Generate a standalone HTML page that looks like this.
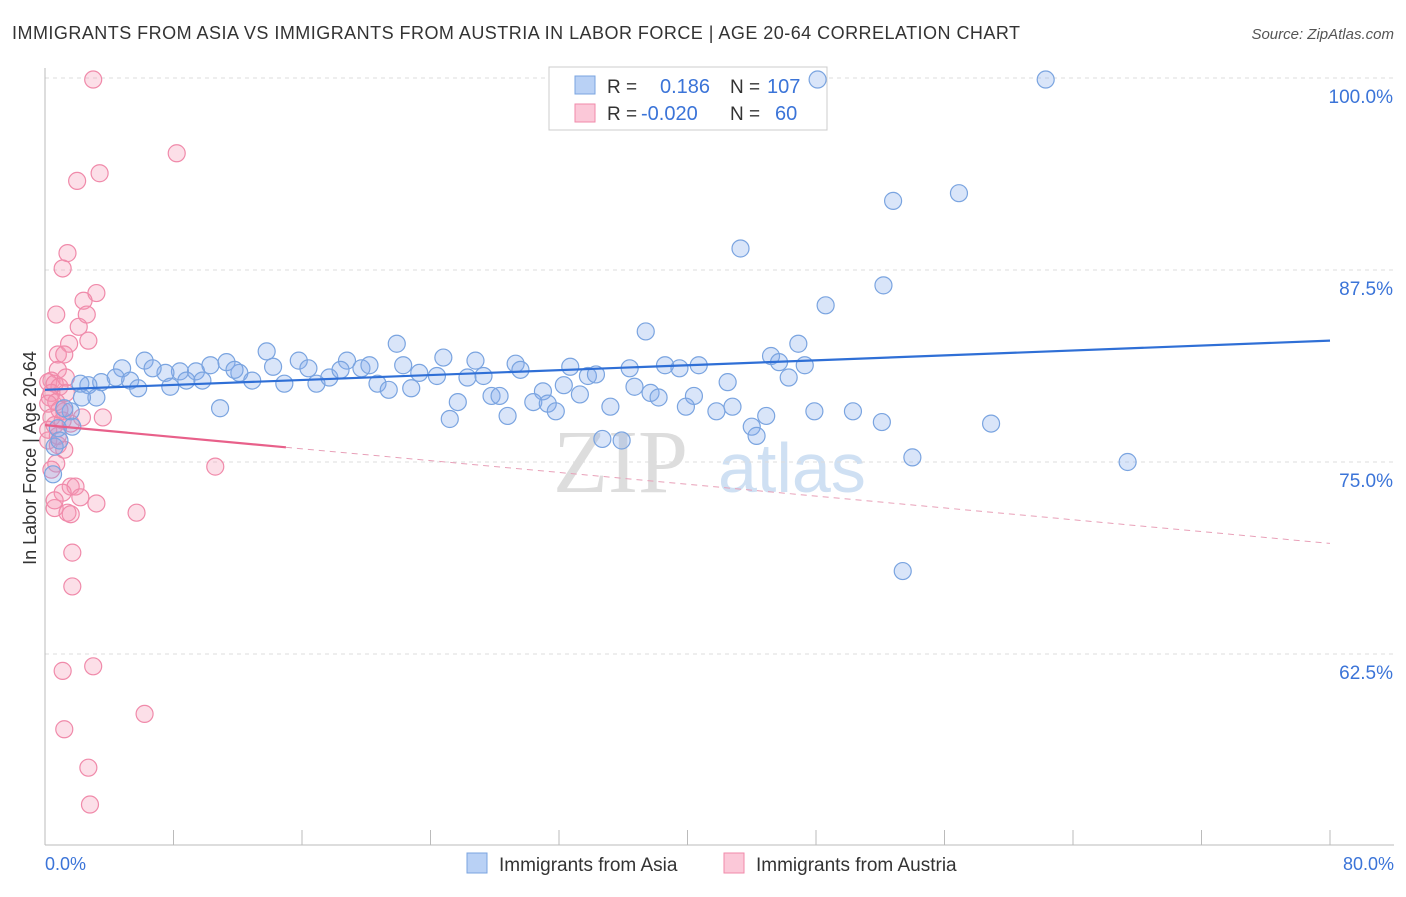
<!DOCTYPE html>
<html><head><meta charset="utf-8"><style>
body{margin:0;background:#fff;font-family:"Liberation Sans",sans-serif;}
</style></head><body>
<svg width="1406" height="892" xmlns="http://www.w3.org/2000/svg" id="chart">
<text x="12" y="39" font-size="18" fill="#333" textLength="1008" lengthAdjust="spacing">IMMIGRANTS FROM ASIA VS IMMIGRANTS FROM AUSTRIA IN LABOR FORCE | AGE 20-64 CORRELATION CHART</text>
<text x="1394" y="39" font-size="15" fill="#555" text-anchor="end" font-style="italic">Source: ZipAtlas.com</text>
<text x="36" y="458" font-size="18" fill="#333" text-anchor="middle" transform="rotate(-90 36 458)">In Labor Force | Age 20-64</text>
<g><text x="553" y="492" font-size="90" fill="#ddd" font-family="Liberation Serif,serif">ZIP</text><text x="718" y="492" font-size="70" fill="#cfe0f3">atlas</text></g>
<g id="grid"></g><g id="axes"></g>
<g>
<rect x="549" y="67" width="278" height="63" fill="#fff" stroke="#ccc"/>
<rect x="575" y="76" width="20" height="18" fill="#b9d1f5" stroke="#7aa4e0"/>
<rect x="575" y="104" width="20" height="18" fill="#fbc8d8" stroke="#f08aaa"/>
<text x="607" y="93" font-size="19" fill="#333">R =</text><text x="660" y="93" font-size="20" fill="#3b74d8">0.186</text>
<text x="730" y="93" font-size="19" fill="#333">N =</text><text x="767" y="93" font-size="20" fill="#3b74d8">107</text>
<text x="607" y="120" font-size="19" fill="#333">R =</text><text x="641" y="120" font-size="20" fill="#3b74d8">-0.020</text>
<text x="730" y="120" font-size="19" fill="#333">N =</text><text x="775" y="120" font-size="20" fill="#3b74d8">60</text>
</g>
<g id="marks"></g>
<g>
<rect x="467" y="853" width="20" height="20" fill="#b9d1f5" stroke="#7aa4e0"/><text x="499" y="871" font-size="19" fill="#333">Immigrants from Asia</text>
<rect x="724" y="853" width="20" height="20" fill="#fbc8d8" stroke="#f08aaa"/><text x="756" y="871" font-size="19" fill="#333">Immigrants from Austria</text>
</g>
</svg>
<script>
const yTicks=[100,87.5,75,62.5];
const yTickLabels=["100.0%","87.5%","75.0%","62.5%"];
const xEnds=["0.0%","80.0%"];
const asiaX=[48.1,62.3,56.9,52.8,43.3,52.2,48.6,37.4,21.9,13.8,6.2,11.3,15.8,18.8,26.8,29.3,32.7,38.6,40.7,45.2,46.9,45.7,47.3,24.8,22.3,19.7,16.4,14.2,12.1,10.3,8.4,7.5,4.8,3.5,2.7,4.4,5.3,5.8,6.7,7.8,8.8,9.4,9.8,11.8,12.9,14.9,16.9,17.7,18.4,20.2,20.7,21.4,22.8,23.3,24.4,26.3,27.3,27.8,28.3,29.6,31.0,30.4,31.3,31.8,32.3,33.3,33.8,34.3,35.2,36.4,36.7,37.7,38.2,39.5,40.4,39.9,41.8,42.5,42.8,44.0,44.3,44.9,46.3,47.9,50.3,52.1,54.0,53.4,58.9,67.4,10.9,25.7,25.2,28.8,34.7,35.9,3.2,2.3,1.6,1.2,0.8,0.6,0.5,0.9,1.7,2.2];
const asiaY=[99.9,99.9,92.5,92.0,88.9,86.5,85.2,83.5,82.7,82.2,81.6,81.5,81.6,81.6,81.6,81.4,81.2,81.3,81.3,81.9,82.7,81.5,81.3,81.8,81.3,81.1,81.1,81.2,80.8,81.3,80.9,80.8,81.1,80.2,80.0,80.5,80.3,79.8,81.1,79.9,80.3,80.9,80.3,81.0,80.3,80.1,80.1,80.5,81.0,81.3,80.1,79.7,79.8,80.8,80.6,80.5,80.6,79.3,79.3,81.0,79.6,78.9,78.8,78.3,80.0,79.4,80.6,80.7,78.6,81.1,79.9,79.5,79.2,81.1,79.3,78.6,78.3,80.2,78.6,77.3,76.7,78.0,80.5,78.3,78.3,77.6,75.3,67.9,77.5,75.0,78.5,78.9,77.8,78.0,76.5,76.4,79.2,79.2,78.3,78.5,77.2,76.0,74.2,76.4,77.3,80.1];
const austriaX=[3.0,8.2,3.4,2.0,1.4,1.1,3.2,2.4,0.7,2.6,2.1,2.7,1.5,0.8,1.2,0.8,0.4,0.2,0.6,0.9,0.4,1.3,0.3,0.7,0.2,1.2,0.4,1.1,2.3,3.6,0.6,1.6,0.2,0.8,1.2,10.6,0.7,1.6,1.9,1.1,2.2,3.2,0.6,1.4,1.6,5.7,1.7,1.7,3.0,1.1,6.2,1.2,2.7,2.8,0.2,0.4,0.6,1.3,0.8,0.9];
const austriaY=[99.9,95.1,93.8,93.3,88.6,87.6,86.0,85.5,84.6,84.6,83.8,82.9,82.7,82.0,82.0,81.0,80.3,80.2,80.1,79.9,79.5,79.5,79.2,78.9,78.8,78.3,77.9,77.7,77.9,77.9,77.4,77.5,76.4,76.1,75.8,74.7,74.9,73.4,73.4,73.0,72.7,72.3,72.0,71.7,71.6,71.7,69.1,66.9,61.7,61.4,58.6,57.6,55.1,52.7,77.1,74.5,72.5,80.5,76.7,78.4];
const asiaTrend=[79.7,82.9];
const austriaTrend=[77.4,69.7];
const austriaSolidEnd=15;
const NS="http://www.w3.org/2000/svg";
const xs=v=>45+v/80*1285;
const ys=v=>78+(100-v)*15.36;
function mk(tag,attrs,parent){const e=document.createElementNS(NS,tag);for(const k in attrs)e.setAttribute(k,attrs[k]);parent.appendChild(e);return e;}
const grid=document.getElementById('grid'),axes=document.getElementById('axes'),marks=document.getElementById('marks');
yTicks.forEach((t,i)=>{
 const l=mk('line',{x1:45,x2:1394,y1:ys(t),y2:ys(t),stroke:'#ddd','stroke-dasharray':'4,4'},grid);
 
 
 const tx=mk('text',{x:1393,y:ys(t)+25,'font-size':19,fill:'#3b74d8','text-anchor':'end'},axes);
 tx.textContent=yTickLabels[i];
 
 
});
mk('line',{x1:45,x2:45,y1:68,y2:845,stroke:'#bbb'},axes);
mk('line',{x1:45,x2:1394,y1:845,y2:845,stroke:'#bbb'},axes);
for(let v=0;v<=80;v+=8){const t=mk('line',{x1:xs(v),x2:xs(v),y1:830,y2:845,stroke:'#bbb'},axes);
 
 }
const xl0=mk('text',{x:45,y:870,'font-size':18,fill:'#3b74d8'},axes);xl0.textContent=xEnds[0];


const xl1=mk('text',{x:1394,y:870,'font-size':18,fill:'#3b74d8','text-anchor':'end'},axes);xl1.textContent=xEnds[1];


austriaX.forEach((x,i)=>{const c=mk('circle',{cx:xs(x),cy:ys(austriaY[i]),r:8.5,fill:'rgba(244,150,180,0.3)',stroke:'#f08aaa','stroke-width':1.2},marks);
 
 });
asiaX.forEach((x,i)=>{const c=mk('circle',{cx:xs(x),cy:ys(asiaY[i]),r:8.5,fill:'rgba(130,170,235,0.3)',stroke:'#7aa4e0','stroke-width':1.2},marks);
 
 });
const bt=mk('line',{x1:xs(0),y1:ys(asiaTrend[0]),x2:xs(80),y2:ys(asiaTrend[1]),stroke:'#2f6fd6','stroke-width':2.2},marks);


const pAt=v=>austriaTrend[0]+(austriaTrend[1]-austriaTrend[0])*v/80;
const pt=mk('line',{x1:xs(0),y1:ys(pAt(0)),x2:xs(austriaSolidEnd),y2:ys(pAt(austriaSolidEnd)),stroke:'#e8608a','stroke-width':2.2},marks);


const pd=mk('line',{x1:xs(austriaSolidEnd),y1:ys(pAt(austriaSolidEnd)),x2:xs(80),y2:ys(pAt(80)),stroke:'#e8a0b8','stroke-width':1,'stroke-dasharray':'6,5'},marks);


</script>
</body></html>
